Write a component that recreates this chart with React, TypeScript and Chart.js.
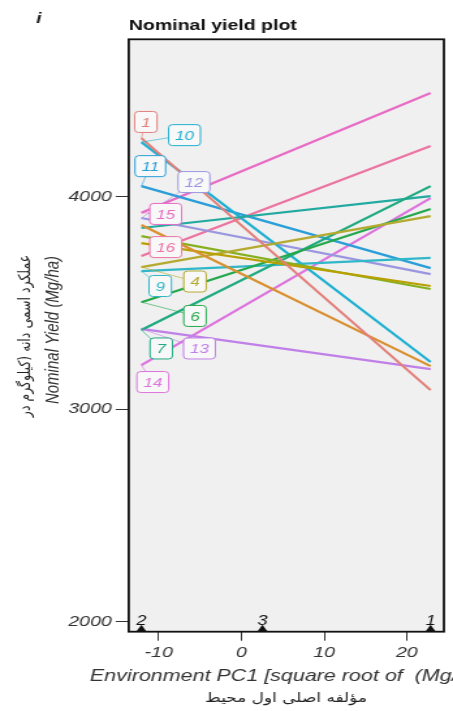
import React, { useEffect, useRef } from "react";
import { Chart, registerables } from "chart.js";

Chart.register(...registerables);

// ---------- data ----------
const genotypes = ["1", "2", "3", "4", "5", "6", "7", "8", "9", "10", "11", "12", "13", "14", "15", "16"];
// nominal yield at environment 2 (left end) and environment 1 (right end)
const yieldEnv2 = [4276, 3867, 3782, 3669, 3815, 3504, 3373, 3853, 3650, 4257, 4050, 3900, 3378, 3208, 3925, 3721];
const yieldEnv1 = [3090, 3203, 3580, 3909, 3566, 3942, 4050, 4003, 3712, 3222, 3664, 3636, 3189, 3994, 4488, 4239];
const envNames = ["2", "3", "1"];
const envPC1 = [-12.1, 2.54, 22.87];
const xTicks = [-10, 0, 10, 20];
const yTicks = [2000, 3000, 4000];
// genotype label anchors (data coordinates)
const shownLabels = ["1", "10", "11", "12", "15", "16", "9", "4", "6", "7", "13", "14"];
const labelPC1 = [-11.56, -6.88, -11.02, -5.74, -9.16, -9.16, -9.82, -5.62, -5.62, -9.7, -5.08, -10.72];
const labelYield = [4352, 4290, 4144, 4069, 3919, 3763, 3580, 3601, 3439, 3286, 3286, 3128];

// ---------- styling ----------
const lineColors = [
  "#E2807A", "#D9902E", "#B9A000", "#B4AA30", "#86B020", "#25A84C", "#1FAA80", "#22AAA0",
  "#30B7C8", "#1FB0D2", "#2A9ED8", "#9A96E0", "#C080E8", "#DD74DE", "#E86CC6", "#EC74A2",
];
const X_MIN = -13.63, X_MAX = 24.48, Y_MIN = 1953, Y_MAX = 4741;
const W = 348, H = 711;
const S = 453 / W;
const FONT = '"Liberation Sans", Arial, sans-serif';

const decor = {
  id: "decor",
  beforeDraw(chart: any) {
    const { ctx, chartArea: a } = chart;
    ctx.save();
    ctx.fillStyle = "#fff";
    ctx.fillRect(0, 0, chart.width, chart.height);
    ctx.fillStyle = "#F0F0F0";
    ctx.fillRect(a.left, a.top, a.right - a.left, a.bottom - a.top);
    ctx.restore();
  },
  afterDatasetsDraw(chart: any) {
    const { ctx, chartArea: a, scales } = chart;
    const xs = scales.x, ys = scales.y;
    ctx.save();
    // leaders
    shownLabels.forEach((g, k) => {
      const i = genotypes.indexOf(g);
      const lx = xs.getPixelForValue(labelPC1[k]);
      const ly = ys.getPixelForValue(labelYield[k]);
      const px = xs.getPixelForValue(envPC1[0]);
      const py = ys.getPixelForValue(yieldEnv2[i]);
      ctx.strokeStyle = lineColors[i];
      ctx.globalAlpha = 0.75;
      ctx.lineWidth = 0.8;
      ctx.beginPath();
      ctx.moveTo(lx, ly);
      ctx.lineTo(px, py);
      ctx.stroke();
    });
    ctx.globalAlpha = 1;
    // label boxes
    ctx.font = `italic 13px ${FONT}`;
    ctx.textAlign = "center";
    ctx.textBaseline = "middle";
    shownLabels.forEach((g, k) => {
      const i = genotypes.indexOf(g);
      const lx = xs.getPixelForValue(labelPC1[k]);
      const ly = ys.getPixelForValue(labelYield[k]);
      const tw = ctx.measureText(g).width;
      const bw = tw + 10, bh = 21;
      ctx.fillStyle = "#F8F8F8";
      ctx.strokeStyle = lineColors[i];
      ctx.lineWidth = 1;
      ctx.beginPath();
      if ((ctx as any).roundRect) (ctx as any).roundRect(lx - bw / 2, ly - bh / 2, bw, bh, 3);
      else ctx.rect(lx - bw / 2, ly - bh / 2, bw, bh);
      ctx.fill();
      ctx.stroke();
      ctx.fillStyle = lineColors[i];
      ctx.fillText(g, lx, ly + 1);
    });
    // environment labels
    ctx.fillStyle = "#111";
    ctx.font = `italic 14px ${FONT}`;
    ctx.textBaseline = "alphabetic";
    envNames.forEach((e, k) => {
      ctx.fillText(e, xs.getPixelForValue(envPC1[k]), a.bottom - 7);
    });
    // plot border
    ctx.strokeStyle = "#111";
    ctx.lineWidth = 1.8;
    ctx.strokeRect(a.left, a.top, a.right - a.left, a.bottom - a.top);
    ctx.restore();
  },
  afterDraw(chart: any) {
    const { ctx } = chart;
    ctx.save();
    ctx.fillStyle = "#222";
    ctx.font = `italic bold 15px ${FONT}`;
    ctx.textAlign = "left";
    ctx.textBaseline = "alphabetic";
    ctx.fillText("i", 27.7, 23);
    ctx.fillStyle = "#111";
    ctx.font = `bold 15px ${FONT}`;
    ctx.fillText("Nominal yield plot", 98.9, 30);
    // x title
    ctx.fillStyle = "#333";
    ctx.font = `italic 16.5px ${FONT}`;
    ctx.fillText("Environment PC1 [square root of  (Mg/ha)]", 69.1, 681);
    ctx.fillStyle = "#222";
    ctx.font = `13px "DejaVu Sans", sans-serif`;
    ctx.textAlign = "center";
    ctx.fillText("مؤلفه اصلی اول محیط", 219.7, 702);
    // y titles
    ctx.save();
    ctx.translate(40.7, 330);
    ctx.rotate(-Math.PI / 2);
    ctx.textBaseline = "middle";
    ctx.textAlign = "center";
    ctx.fillStyle = "#333";
    ctx.font = `italic 15px ${FONT}`;
    ctx.fillText("Nominal Yield (Mg/ha)", 0, 0);
    ctx.restore();
    ctx.save();
    ctx.translate(20, 336);
    ctx.rotate(-Math.PI / 2);
    ctx.textBaseline = "middle";
    ctx.textAlign = "center";
    ctx.fillStyle = "#222";
    ctx.font = `12.5px "DejaVu Sans", sans-serif`;
    ctx.fillText("عملکرد اسمی دانه (کیلوگرم در", 0, 0);
    ctx.restore();
    ctx.restore();
  },
};

export default function App() {
  const ref = useRef<HTMLCanvasElement>(null);
  useEffect(() => {
    const canvas = ref.current!;
    const lineSets = genotypes.map((g, i) => ({
      label: g,
      data: [
        { x: envPC1[0], y: yieldEnv2[i] },
        { x: envPC1[2], y: yieldEnv1[i] },
      ],
      showLine: true,
      borderColor: lineColors[i],
      backgroundColor: lineColors[i],
      borderWidth: 2.2,
      pointRadius: 0,
    }));
    const markerSet = {
      label: "env",
      data: envPC1.map((x) => ({ x, y: Y_MIN })),
      showLine: false,
      pointStyle: "triangle",
      pointRadius: 7,
      backgroundColor: "#111",
      borderColor: "#111",
      borderWidth: 0,
      clip: 0,
    };
    const tickFont = { family: FONT, size: 15, style: "italic" as const };
    const chart = new Chart(canvas, {
      type: "scatter",
      data: { datasets: [...lineSets, markerSet] as any },
      options: {
        responsive: false,
        animation: false,
        devicePixelRatio: 1,
        layout: { padding: { top: 39.3, right: 4.8, left: 0, bottom: 0 } },
        plugins: { legend: { display: false }, tooltip: { enabled: false } },
        scales: {
          x: {
            type: "linear",
            min: X_MIN,
            max: X_MAX,
            afterBuildTicks: (s: any) => {
              s.ticks = xTicks.map((v) => ({ value: v }));
            },
            afterFit: (s: any) => {
              s.height = H - 631.7;
            },
            grid: { drawOnChartArea: false, drawTicks: true, tickLength: 9, color: "#333", lineWidth: 1 },
            border: { display: false },
            ticks: { font: tickFont, color: "#333", padding: 3, callback: (v: any) => String(v) },
          },
          y: {
            type: "linear",
            min: Y_MIN,
            max: Y_MAX,
            afterBuildTicks: (s: any) => {
              s.ticks = yTicks.map((v) => ({ value: v }));
            },
            afterFit: (s: any) => {
              s.width = 98.9;
            },
            grid: { drawOnChartArea: false, drawTicks: true, tickLength: 10, color: "#333", lineWidth: 1 },
            border: { display: false },
            ticks: { font: tickFont, color: "#333", padding: 3, callback: (v: any) => String(v) },
          },
        },
      },
      plugins: [decor],
    });
    return () => chart.destroy();
  }, []);
  return (
    <canvas
      ref={ref}
      width={W}
      height={H}
      style={{ position: "absolute", left: 0, top: 0, transform: `scaleX(${S})`, transformOrigin: "0 0" }}
    />
  );
}
